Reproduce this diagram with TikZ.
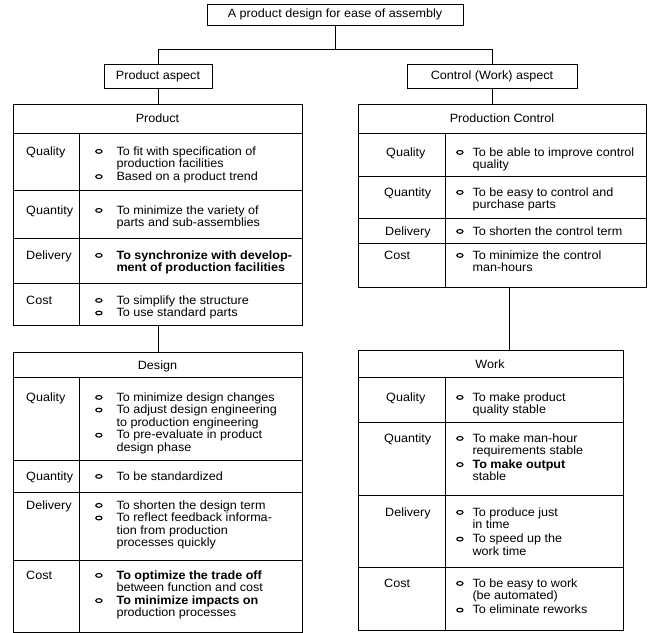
\documentclass[tikz,border=0pt]{standalone}
\usepackage{fontspec}
\setmainfont[FakeStretch=1.05]{Liberation Sans}
\usetikzlibrary{positioning}

% small open bullet of the lists
\newcommand{\bul}{\tikz[baseline=-3.6pt]\draw[line width=1.1pt] (0pt,0pt) ellipse (3.1pt and 1.9pt);}
% bullet lists: left tables and right tables
\newcommand{\lst}[1]{\begin{tabular}[t]{@{}c@{\hspace{14pt}}l@{}}#1\end{tabular}}
\newcommand{\rlst}[1]{\begin{tabular}[t]{@{}c@{\hspace{9pt}}l@{}}#1\end{tabular}}

\begin{document}
\begin{tikzpicture}[
  x=1pt, y=-1pt,
  every node/.style={font=\fontsize{12}{12.6}\selectfont},
  hbox/.style={draw, line width=1pt, minimum height=22pt, inner sep=0pt},
  tbl/.style={draw, line width=1pt, anchor=north west, inner sep=0pt},
  grid/.style={line width=1pt},
  conn/.style={line width=1pt},
  hd/.style={anchor=base, inner sep=0pt},
  lbl/.style={anchor=base west, inner sep=0pt},
  itm/.style={anchor=base west, inner sep=0pt},
]
\useasboundingbox (0,0) rectangle (660,632);

% headings
\node[hbox, minimum width=256pt, minimum height=21pt] (top) at (335,14.5) {A product design for ease of assembly};
\node[hbox, minimum width=108pt, minimum height=24pt] (paspect) at (158,76) {Product aspect};
\node[hbox, minimum width=170pt, minimum height=24pt] (caspect) at (492,76) {Control (Work) aspect};

% tables
\node[tbl, minimum width=289pt, minimum height=221pt] (prod) at (13,104) {};
\node[tbl, minimum width=289pt, minimum height=280pt] (design) at (13,352) {};
\node[tbl, minimum width=288pt, minimum height=183pt] (pctl) at (358,104) {};
\node[tbl, minimum width=265pt, minimum height=280pt] (work) at (358,350) {};

% connectors
\draw[conn] (top.south) -- ++(0,24) coordinate (bus);
\draw[conn] (paspect.north) |- (bus) -| (caspect.north);
\draw[conn] (paspect.south) -- (paspect.south |- prod.north);
\draw[conn] (prod.south -| paspect.south) -- (paspect.south |- design.north);
\draw[conn] (caspect.south) -- (caspect.south |- pctl.north);
\draw[conn] ([xshift=7pt]pctl.south) -- ([xshift=7pt]pctl.south |- work.north);

% Product
\foreach \y in {133,190,238,283}
  \draw[grid] (prod.west |- 0,\y) -- (prod.east |- 0,\y);
\draw[grid] (79,133) -- (prod.south -| 79,0);
\node[hd] (prodh) at (157.5,122) {Product};
\node[lbl] (pql) at (26,155) {Quality};
\node[lbl] (pqnl) at (26,214) {Quantity};
\node[lbl] (pdl) at (26,259) {Delivery};
\node[lbl] (pcl) at (26,304) {Cost};
\node[itm] (pqi) at (95,155) {\lst{\bul & To fit with specification of\\ & production facilities\\ \bul & Based on a product trend}};
\node[itm] (pqni) at (95,214) {\lst{\bul & To minimize the variety of\\ & parts and sub-assemblies}};
\node[itm] (pdi) at (95,259) {\lst{\bul & \textbf{To synchronize with develop-}\\ & \textbf{ment of production facilities}}};
\node[itm] (pci) at (95,304) {\lst{\bul & To simplify the structure\\ \bul & To use standard parts}};

% Design
\foreach \y in {377,460,492,560}
  \draw[grid] (design.west |- 0,\y) -- (design.east |- 0,\y);
\draw[grid] (79,377) -- (design.south -| 79,0);
\node[hd] (desh) at (157.5,369) {Design};
\node[lbl] (dql) at (26,401) {Quality};
\node[lbl] (dqnl) at (26,480) {Quantity};
\node[lbl] (ddl) at (26,509) {Delivery};
\node[lbl] (dcl) at (26,579) {Cost};
\node[itm] (dqi) at (95,401) {\lst{\bul & To minimize design changes\\ \bul & To adjust design engineering\\ & to production engineering\\ \bul & To pre-evaluate in product\\ & design phase}};
\node[itm] (dqni) at (95,480) {\lst{\bul & To be standardized}};
\node[itm] (ddi) at (95,509) {\lst{\bul & To shorten the design term\\ \bul & To reflect feedback informa-\\ & tion from production\\ & processes quickly}};
\node[itm] (dci) at (95,579) {\lst{\bul & \textbf{To optimize the trade off}\\ & between function and cost\\ \bul & \textbf{To minimize impacts on}\\ & production processes}};

% Production Control
\foreach \y in {133,176,218,243}
  \draw[grid] (pctl.west |- 0,\y) -- (pctl.east |- 0,\y);
\draw[grid] (445,133) -- (pctl.south -| 445,0);
\node[hd] (pch) at (502,122) {Production Control};
\node[lbl] (cql) at (386,156) {Quality};
\node[lbl] (cqnl) at (384,196) {Quantity};
\node[lbl] (cdl) at (385,235) {Delivery};
\node[lbl] (ccl) at (384,259) {Cost};
\node[itm] (cqi) at (456,156) {\rlst{\bul & To be able to improve control\\ & quality}};
\node[itm] (cqni) at (456,196) {\rlst{\bul & To be easy to control and\\ & purchase parts}};
\node[itm] (cdi) at (456,235) {\rlst{\bul & To shorten the control term}};
\node[itm] (cci) at (456,259) {\rlst{\bul & To minimize the control\\ & man-hours}};

% Work
\foreach \y in {377,422,495,567}
  \draw[grid] (work.west |- 0,\y) -- (work.east |- 0,\y);
\draw[grid] (445,377) -- (work.south -| 445,0);
\node[hd] (wh) at (490,368) {Work};
\node[lbl] (wql) at (386,401) {Quality};
\node[lbl] (wqnl) at (384,442) {Quantity};
\node[lbl] (wdl) at (385,516) {Delivery};
\node[lbl] (wcl) at (384,587) {Cost};
\node[itm] (wqi) at (456,401) {\rlst{\bul & To make product\\ & quality stable}};
\node[itm] (wqni) at (456,442) {\rlst{\bul & To make man-hour\\ & requirements stable\\[1pt] \bul & \textbf{To make output}\\ & stable}};
\node[itm] (wdi) at (456,516) {\rlst{\bul & To produce just\\ & in time\\[1.5pt] \bul & To speed up the\\ & work time}};
\node[itm] (wci) at (456,587) {\rlst{\bul & To be easy to work\\ & (be automated)\\[1.5pt] \bul & To eliminate reworks}};
\end{tikzpicture}
\end{document}
